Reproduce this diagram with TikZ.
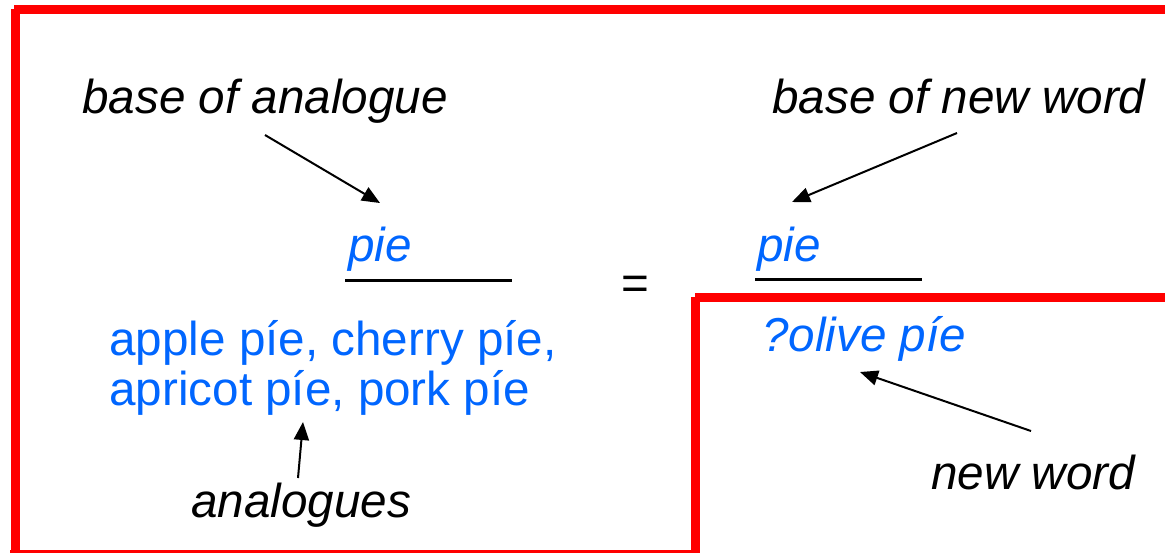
\documentclass[tikz,border=0pt]{standalone}
\usepackage{fontspec}
\setmainfont{Liberation Sans}
\usetikzlibrary{arrows.meta}
\definecolor{wordblue}{RGB}{0,102,255}
\definecolor{framered}{RGB}{255,0,0}
\begin{document}
\begin{tikzpicture}[x=0.5pt,y=-0.5pt,
  lbl/.style={anchor=base west,inner sep=0pt,font=\fontsize{23.8}{25}\selectfont\itshape},
  word/.style={anchor=base west,inner sep=0pt,font=\fontsize{23.8}{25}\selectfont,text=wordblue},
  frame/.style={draw=framered,line width=4.5pt},
  bar/.style={draw=black,line width=1.5pt},
  pointer/.style={draw=black,line width=1pt,-{Triangle[length=9pt,width=7.5pt]}}]
\useasboundingbox (0,0) rectangle (1165,552);
\fill[white] (0,0) rectangle (1165,552);
\clip (0,0) rectangle (1165,552);
% red frames
\draw[frame] (14,9) -- (1170,9);
\draw[frame] (15,9) -- (15,560);
\draw[frame] (10,554.5) -- (700,554.5);
\draw[frame] (695.5,297) -- (695.5,560);
\draw[frame] (695,297.5) -- (1170,297.5);
% labels
\node[lbl] (baseA) at (82,113) {base of analogue};
\node[lbl] (baseN) at (772,113) {base of new word};
\node[lbl] (analogues) at (191,517) {analogues};
\node[lbl] (newword) at (931,489) {new word};
% words
\node[word,font=\fontsize{23.8}{25}\selectfont\itshape] (pieA) at (348,261) {pie};
\node[word,font=\fontsize{23.8}{25}\selectfont\itshape] (pieN) at (757,261) {pie};
\node[word] (anl1) at (109,355) {apple píe, cherry píe,};
\node[word] (anl2) at (109,405) {apricot píe, pork píe};
\node[word,font=\fontsize{23.8}{25}\selectfont\itshape] (olive) at (762,351) {?olive píe};
\node[anchor=base west,inner sep=0pt,font=\fontsize{23.8}{25}\selectfont] (eq) at (621,299) {=};
% fraction bars
\coordinate (barAl) at (345,280);
\coordinate (barAr) at (512,280);
\coordinate (barNl) at (755,279);
\coordinate (barNr) at (922,279);
\draw[bar] (barAl) -- (barAr);
\draw[bar] (barNl) -- (barNr);
% arrows
\coordinate (a1s) at (265,135);
\coordinate (a1e) at (380,203);
\coordinate (a2s) at (957,133);
\coordinate (a2e) at (792,202);
\coordinate (a3s) at (1031,431);
\coordinate (a3e) at (860,372);
\coordinate (a4s) at (298,478);
\coordinate (a4e) at (303,422);
\draw[pointer] (a1s) -- (a1e);
\draw[pointer] (a2s) -- (a2e);
\draw[pointer] (a3s) -- (a3e);
\draw[pointer] (a4s) -- (a4e);
\end{tikzpicture}
\end{document}
